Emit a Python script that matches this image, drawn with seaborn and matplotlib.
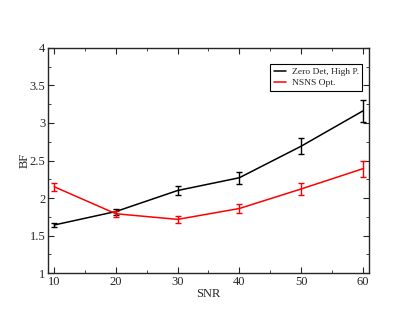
import pandas as pd
import seaborn as sns
import matplotlib.pyplot as plt
from matplotlib.ticker import MultipleLocator

snr = [10, 20, 30, 40, 50, 60]
zero_det = [1.64, 1.82, 2.10, 2.27, 2.69, 3.16]
zero_det_err = [0.025, 0.04, 0.055, 0.08, 0.11, 0.15]
nsns = [2.15, 1.79, 1.715, 1.86, 2.12, 2.39]
nsns_err = [0.05, 0.04, 0.045, 0.06, 0.085, 0.11]

labels = ["Zero Det, High P.", "NSNS Opt."]
colors = ["black", "red"]

df = pd.concat([
    pd.DataFrame({"SNR": snr, "BF": zero_det, "err": zero_det_err, "curve": labels[0]}),
    pd.DataFrame({"SNR": snr, "BF": nsns, "err": nsns_err, "curve": labels[1]}),
])

sns.set_style("ticks")
plt.rcParams["font.family"] = ["Liberation Serif", "DejaVu Serif"]

fig = plt.figure(figsize=(4.15, 3.21), dpi=100)
ax = fig.add_axes([0.1157, 0.1495, 0.7733, 0.701])

sns.lineplot(data=df, x="SNR", y="BF", hue="curve", palette=colors,
             hue_order=labels, linewidth=1.1, ax=ax)
for lab, col in zip(labels, colors):
    d = df[df["curve"] == lab]
    ax.errorbar(d["SNR"], d["BF"], yerr=d["err"], fmt="none", ecolor=col,
                elinewidth=1.0, capsize=2.5, capthick=1.0)

ax.set_xlim(9, 61)
ax.set_ylim(1, 4)
ax.xaxis.set_major_locator(MultipleLocator(10))
ax.xaxis.set_minor_locator(MultipleLocator(5))
ax.yaxis.set_minor_locator(MultipleLocator(0.25))
ax.set_yticks([1, 1.5, 2, 2.5, 3, 3.5, 4])
ax.set_yticklabels(["1", "1.5", "2", "2.5", "3", "3.5", "4"])
ax.tick_params(which="both", direction="in", top=True, right=True, labelsize=9, pad=2)
ax.tick_params(which="major", length=4)
ax.tick_params(which="minor", length=2)
for s in ax.spines.values():
    s.set_linewidth(1.0)
ax.set_xlabel("SNR", fontsize=9, labelpad=0)
ax.set_ylabel("BF", fontsize=9, labelpad=-1)

leg = ax.legend(loc="upper right", bbox_to_anchor=(0.978, 0.929), borderaxespad=0,
                fontsize=6.8, frameon=True, fancybox=False, edgecolor="black",
                framealpha=1, handlelength=1.3, handletextpad=0.6,
                borderpad=0.35, labelspacing=0.3)
leg.get_frame().set_linewidth(0.8)

fig.savefig("out.png", dpi=100)
